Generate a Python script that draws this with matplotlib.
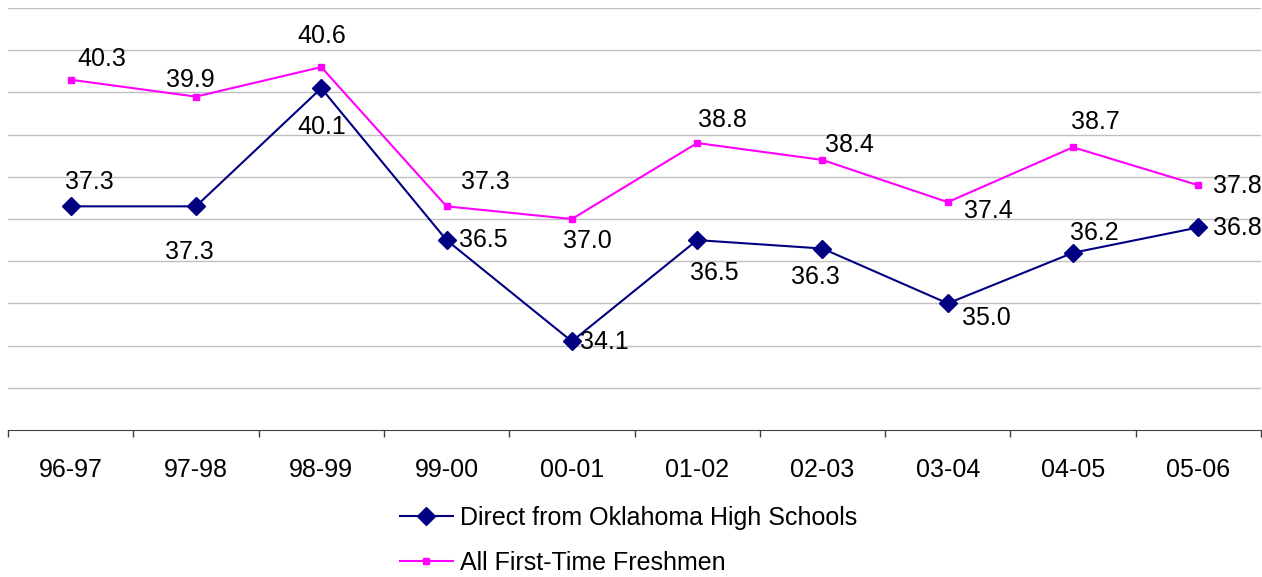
import numpy as np
import matplotlib
matplotlib.use("Agg")
import matplotlib.pyplot as plt

# Data
years = ['96-97', '97-98', '98-99', '99-00', '00-01', '01-02', '02-03', '03-04', '04-05', '05-06']
direct_ok = [37.3, 37.3, 40.1, 36.5, 34.1, 36.5, 36.3, 35.0, 36.2, 36.8]
all_fresh = [40.3, 39.9, 40.6, 37.3, 37.0, 38.8, 38.4, 37.4, 38.7, 37.8]
series_names = ['Direct from Oklahoma High Schools', 'All First-Time Freshmen']

# label offsets in pixels (dx, dy), screen up = positive
direct_offsets = [(19, 24), (-7, -46), (0, -39), (37, 0), (33, -1), (17, -33), (-7, -28), (39, -15), (21, 20), (39, -1)]
fresh_offsets = [(31, 21), (-6, 17), (1, 31), (39, 24), (16, -22), (25, 23), (27, 15), (41, -9), (22, 25), (39, -1)]

blue = '#000080'
pink = '#FF00FF'
fs = 18

plt.rcParams['font.family'] = ['Liberation Sans', 'DejaVu Sans']

fig = plt.figure(figsize=(12.62, 5.77), dpi=100)
ax = fig.add_axes([8/1262, 1 - 430/577, 1253/1262, 422/577])

x = np.arange(len(years))
l1, = ax.plot(x, direct_ok, color=blue, lw=1.5, marker='D', markersize=9, zorder=3)
l2, = ax.plot(x, all_fresh, color=pink, lw=1.5, marker='s', markersize=5, zorder=3)

for xi, v, off in zip(x, direct_ok, direct_offsets):
    ax.annotate(f'{v:.1f}', (xi, v), xytext=off, textcoords='offset pixels',
                ha='center', va='center', fontsize=fs, color='black')
for xi, v, off in zip(x, all_fresh, fresh_offsets):
    ax.annotate(f'{v:.1f}', (xi, v), xytext=off, textcoords='offset pixels',
                ha='center', va='center', fontsize=fs, color='black')

ax.set_xlim(-0.5, len(years) - 0.5)
ax.set_ylim(32, 42)
ax.set_yticks(np.arange(33, 43, 1))
ax.yaxis.grid(True, color='#C0C0C0', lw=1)
ax.tick_params(axis='y', left=False, labelleft=False)

ax.set_xticks(x)
ax.set_xticklabels(years, fontsize=fs)
ax.set_xticks(np.arange(-0.5, len(years), 1), minor=True)
ax.tick_params(axis='x', which='major', length=0, pad=20)
ax.tick_params(axis='x', which='minor', length=5, color='#404040', width=1, direction='out')

for s in ['top', 'right', 'left']:
    ax.spines[s].set_visible(False)
ax.spines['bottom'].set_color('#404040')
ax.set_axisbelow(True)

fig.legend([l1, l2], series_names, loc='upper left', bbox_to_anchor=(377/1262, 1 - 483/577),
           frameon=False, fontsize=fs, handlelength=2.15, handletextpad=0.28, labelspacing=0.85)

fig.savefig('out.png', dpi=100)
